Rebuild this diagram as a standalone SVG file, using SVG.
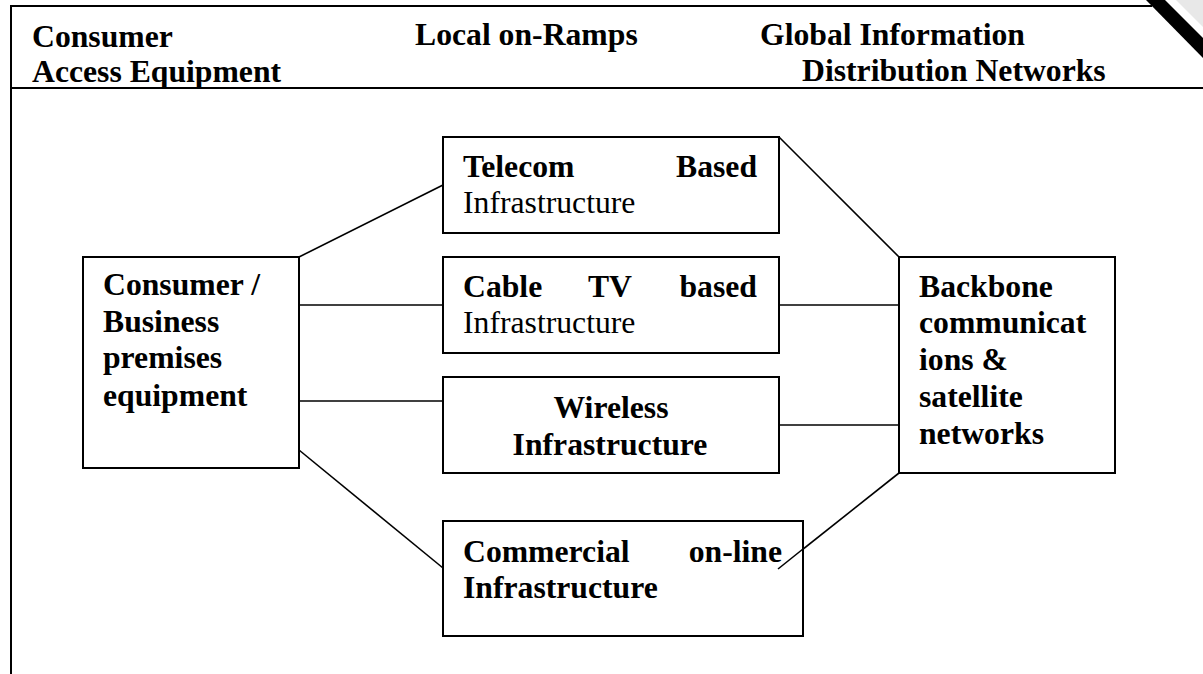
<svg xmlns="http://www.w3.org/2000/svg" width="1203" height="674" viewBox="0 0 1203 674">
<style>
text{font-family:"Liberation Serif","Times New Roman",serif;font-size:31.7px;fill:#000}
.b{font-weight:bold}
.box{fill:#fff;stroke:#000;stroke-width:2}
.frame{stroke:#000;stroke-width:2;fill:none}
#connectors line{stroke:#000;stroke-width:1.6}
</style>
<rect width="1203" height="674" fill="#fff"/>
<g id="frame">
<line class="frame" x1="11" y1="6" x2="1152" y2="6"/>
<line class="frame" x1="11" y1="5" x2="11" y2="674"/>
<line class="frame" x1="11" y1="88" x2="1203" y2="88"/>
<polygon points="1146,0 1165,0 1203,38 1203,58" fill="#000"/>
<polygon points="1176,0 1203,0 1203,27" fill="#e8e8e8"/>
</g>
<g id="header">
<text class="b" x="32" y="47">Consumer</text>
<text class="b" x="32" y="82">Access Equipment</text>
<text class="b" x="415" y="45">Local on-Ramps</text>
<text class="b" x="760" y="45">Global Information</text>
<text class="b" x="802" y="81">Distribution Networks</text>
</g>
<g id="connectors">
<line x1="299" y1="257" x2="443" y2="185"/>
<line x1="299" y1="305" x2="443" y2="305"/>
<line x1="299" y1="401" x2="443" y2="401"/>
<line x1="299" y1="450" x2="443" y2="568"/>
<line x1="779" y1="137" x2="899" y2="257"/>
<line x1="779" y1="305" x2="899" y2="305"/>
<line x1="779" y1="425" x2="899" y2="425"/>
<line x1="899" y1="473" x2="778" y2="569"/>
</g>
<g id="consumer">
<rect class="box" x="83" y="257" width="216" height="211"/>
<text class="b" x="103" y="295">Consumer /</text>
<text class="b" x="103" y="332">Business</text>
<text class="b" x="103" y="368">premises</text>
<text class="b" x="103" y="406">equipment</text>
</g>
<g id="telecom">
<rect class="box" x="443" y="137" width="336" height="96"/>
<text class="b" x="463" y="177">Telecom</text>
<text class="b" x="757" y="177" text-anchor="end">Based</text>
<text x="463" y="213">Infrastructure</text>
</g>
<g id="cable">
<rect class="box" x="443" y="257" width="336" height="96"/>
<text class="b" x="463" y="297">Cable</text>
<text class="b" x="610" y="297" text-anchor="middle">TV</text>
<text class="b" x="757" y="297" text-anchor="end">based</text>
<text x="463" y="333">Infrastructure</text>
</g>
<g id="wireless">
<rect class="box" x="443" y="377" width="336" height="96"/>
<text class="b" x="611" y="418" text-anchor="middle">Wireless</text>
<text class="b" x="610" y="455" text-anchor="middle">Infrastructure</text>
</g>
<g id="commercial">
<rect class="box" x="443" y="521" width="360" height="115"/>
<text class="b" x="463" y="562">Commercial</text>
<text class="b" x="782" y="562" text-anchor="end">on-line</text>
<text class="b" x="463" y="598">Infrastructure</text>
</g>
<line x1="803" y1="549" x2="778" y2="569" stroke="#000" stroke-width="1.6"/>
<g id="backbone">
<rect class="box" x="899" y="257" width="216" height="216"/>
<text class="b" x="919" y="297">Backbone</text>
<text class="b" x="919" y="333">communicat</text>
<text class="b" x="919" y="370">ions &amp;</text>
<text class="b" x="919" y="407">satellite</text>
<text class="b" x="919" y="444">networks</text>
</g>
</svg>
